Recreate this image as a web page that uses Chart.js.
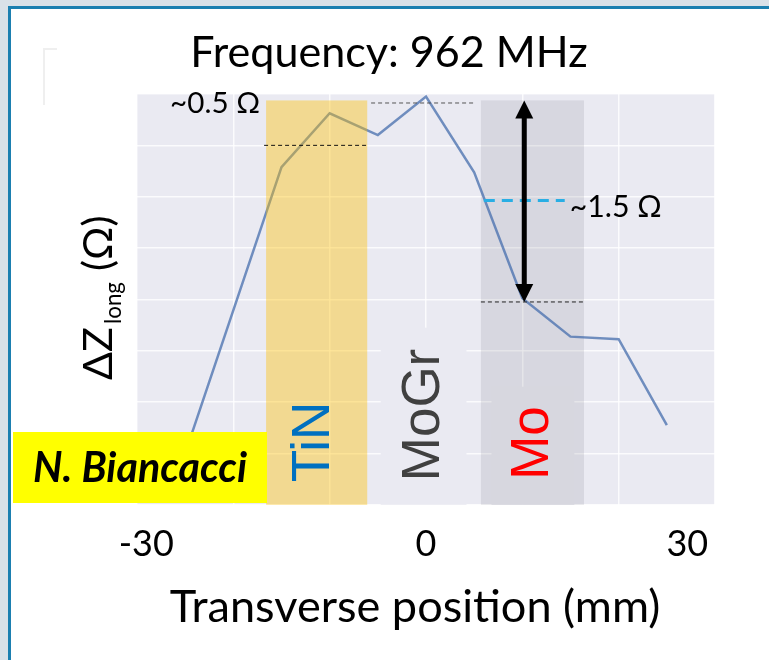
<!DOCTYPE html>
<html>
<head>
<meta charset="utf-8">
<script src="https://cdn.jsdelivr.net/npm/chart.js@4.4.1/dist/chart.umd.min.js"></script>
<style>
  html, body { margin: 0; padding: 0; background: #fff; }
  #wrap { width: 769px; height: 660px; }
</style>
</head>
<body>
<div id="wrap"><canvas id="impedance"></canvas></div>
<script>
// transverse scan of the longitudinal impedance shift at 962 MHz
const positions = [-25, -15, -10, -5, 0, 5, 10, 15, 20, 25];                 // mm
const deltaZ = [0.40, 2.63, 3.05, 2.88, 3.18, 2.59, 1.61, 1.31, 1.29, 0.62];  // Ω

const xTicks = [-30, 0, 30];
const xTickText = ["  -30", "0", "30      "];

// coating stripes (mm) and their height (Ω)
const tinBand = [-16.6, -6.1];
const moBand = [5.7, 16.4];
const bandTop = 3.15;

// reference levels (Ω)
const peakLevel = 3.13;
const tinLevel = 2.80;
const moLevel = 1.58;
const midLevel = 2.37;
const arrowX = 10.2;
const midDash = [6.0, 14.4];
const peakDash = [-5.7, 4.9];

const FONT = "Lato, 'Noto Sans', sans-serif";
const ARIAL = "'Liberation Sans', Arial, sans-serif";

const ctx = document.getElementById("impedance").getContext("2d");

// pick a font size so that text spans the given width
function fitFont(c, text, style, family, width) {
  c.font = style + " 100px " + family;
  const size = 100 * width / c.measureText(text).width;
  return style + " " + size.toFixed(1) + "px " + family;
}

function vText(c, text, px, py, font, color) {
  c.save();
  c.translate(px, py);
  c.rotate(-Math.PI / 2);
  c.font = font;
  c.fillStyle = color;
  c.textAlign = "center";
  c.textBaseline = "middle";
  c.fillText(text, 0, 0);
  c.restore();
}

function dashed(c, x0, x1, yy, color, width, dash) {
  c.save();
  c.strokeStyle = color;
  c.lineWidth = width;
  c.setLineDash(dash);
  c.beginPath();
  c.moveTo(x0, yy);
  c.lineTo(x1, yy);
  c.stroke();
  c.restore();
}

const decorations = {
  id: "decorations",
  beforeDraw(chart) {
    const c = chart.ctx;
    const { left, top, right, bottom } = chart.chartArea;
    c.save();
    c.fillStyle = "#ffffff";
    c.fillRect(0, 0, chart.width, chart.height);
    c.fillStyle = "#d9e1e8";
    c.fillRect(0, 0, chart.width, 6);
    c.fillRect(0, 0, 8, chart.height);
    c.fillStyle = "#1b7fb0";
    c.fillRect(8, 6, chart.width - 8, 3);
    c.fillRect(8, 6, 3, chart.height - 6);
    c.strokeStyle = "#efefef";
    c.lineWidth = 2;
    c.beginPath();
    c.moveTo(57, 49);
    c.lineTo(44, 49);
    c.lineTo(44, 105);
    c.stroke();
    c.fillStyle = "#eaeaf2";
    c.fillRect(left, top, right - left, bottom - top);
    c.restore();
  },
  beforeDatasetsDraw(chart) {
    const c = chart.ctx;
    const x = chart.scales.x, y = chart.scales.y;
    const y0 = y.getPixelForValue(0), yt = y.getPixelForValue(bandTop);
    c.save();
    // Mo stripe lies under the curve
    c.fillStyle = "rgba(110,108,122,0.15)";
    const m0 = x.getPixelForValue(moBand[0]), m1 = x.getPixelForValue(moBand[1]);
    c.fillRect(m0, yt, m1 - m0, y0 - yt);
    // text boxes covering the grid
    c.fillStyle = "#eaeaf2";
    const g0 = x.getPixelForValue(-4.7), g1 = x.getPixelForValue(4.2);
    const gt = y.getPixelForValue(1.38);
    c.fillRect(g0, gt, g1 - g0, y0 - gt);
    c.fillStyle = "#d7d7df";
    const b0 = x.getPixelForValue(6.8), b1 = x.getPixelForValue(15.4);
    const bt = y.getPixelForValue(0.92);
    c.fillRect(b0, bt, b1 - b0, y0 - bt);
    c.restore();
  },
  afterDatasetsDraw(chart) {
    const c = chart.ctx;
    const x = chart.scales.x, y = chart.scales.y;
    const y0 = y.getPixelForValue(0), yt = y.getPixelForValue(bandTop);
    c.save();

    // TiN stripe drawn over the curve
    const t0 = x.getPixelForValue(tinBand[0]), t1 = x.getPixelForValue(tinBand[1]);
    c.fillStyle = "rgba(255,192,0,0.4)";
    c.fillRect(t0, yt, t1 - t0, y0 - yt);

    // level markers
    dashed(c, x.getPixelForValue(peakDash[0]), x.getPixelForValue(peakDash[1]),
      y.getPixelForValue(peakLevel), "#555", 1, [4, 3]);
    dashed(c, t0 - 2, t1, y.getPixelForValue(tinLevel), "#111", 1, [4, 3]);
    dashed(c, x.getPixelForValue(moBand[0]), x.getPixelForValue(moBand[1]),
      y.getPixelForValue(moLevel), "#222", 1, [4, 3]);
    dashed(c, x.getPixelForValue(midDash[0]), x.getPixelForValue(midDash[1]),
      y.getPixelForValue(midLevel), "#29aee4", 3, [11, 7]);

    // double arrow spanning the drop
    const ax = x.getPixelForValue(arrowX);
    const aTop = y.getPixelForValue(bandTop), aBot = y.getPixelForValue(moLevel);
    c.strokeStyle = "#000";
    c.fillStyle = "#000";
    c.lineWidth = 5;
    c.beginPath();
    c.moveTo(ax, aTop + 14);
    c.lineTo(ax, aBot - 14);
    c.stroke();
    c.beginPath();
    c.moveTo(ax, aTop);
    c.lineTo(ax - 9, aTop + 18);
    c.lineTo(ax + 9, aTop + 18);
    c.closePath();
    c.fill();
    c.beginPath();
    c.moveTo(ax, aBot);
    c.lineTo(ax - 9, aBot - 18);
    c.lineTo(ax + 9, aBot - 18);
    c.closePath();
    c.fill();

    // material names
    vText(c, "TiN", (t0 + t1) / 2 - 2, 442, "53px " + ARIAL, "#0070c0");
    vText(c, "MoGr", x.getPixelForValue(0) - 2, 415, "53px " + ARIAL, "#404040");
    vText(c, "Mo", (x.getPixelForValue(moBand[0]) + x.getPixelForValue(moBand[1])) / 2 + 1,
      443, "53px " + ARIAL, "#ff0000");

    // step sizes
    c.fillStyle = "#000";
    c.textBaseline = "alphabetic";
    c.textAlign = "right";
    c.font = fitFont(c, "~0.5 Ω", "normal", FONT, 90);
    c.fillText("~0.5 Ω", t0 - 6, y.getPixelForValue(peakLevel) + 10);
    c.textAlign = "left";
    c.font = fitFont(c, "~1.5 Ω", "normal", FONT, 92);
    c.fillText("~1.5 Ω", x.getPixelForValue(midDash[1]) + 5, y.getPixelForValue(midLevel) + 16);

    // author tag
    c.fillStyle = "#ffff00";
    c.fillRect(13, 432, 254, 71);
    c.fillStyle = "#000";
    c.textAlign = "center";
    c.font = fitFont(c, "N. Biancacci", "italic bold", FONT, 214);
    c.fillText("N. Biancacci", 140, 482);

    // title and axis titles
    c.font = fitFont(c, "Frequency: 962 MHz", "normal", FONT, 398);
    c.fillText("Frequency: 962 MHz", 389, 67);
    c.font = fitFont(c, "Transverse position (mm)", "normal", FONT, 490);
    c.fillText("Transverse position (mm)", 415, 622);

    c.translate(112, 380);
    c.rotate(-Math.PI / 2);
    c.textAlign = "left";
    const main = fitFont(c, "ΔZ", "normal", FONT, 53);
    c.font = main;
    c.fillText("ΔZ", 0, 0);
    c.font = fitFont(c, "long", "normal", FONT, 42);
    c.fillText("long", 56, 9);
    c.font = main;
    c.fillText("(Ω)", 109, 0);
    c.restore();
  }
};

new Chart(ctx, {
  type: "line",
  data: {
    datasets: [
      {
        label: "ΔZlong",
        data: positions.map((p, i) => ({ x: p, y: deltaZ[i] })),
        borderColor: "rgba(76,114,176,0.78)",
        borderWidth: 2.5,
        pointRadius: 0,
        tension: 0,
      },
    ],
  },
  options: {
    responsive: true,
    maintainAspectRatio: false,
    animation: false,
    devicePixelRatio: 1,
    layout: { padding: { left: 137, right: 54, top: 94, bottom: 76 } },
    plugins: { legend: { display: false }, tooltip: { enabled: false } },
    scales: {
      x: {
        type: "linear",
        min: -30,
        max: 30,
        border: { display: false },
        grid: { color: "rgba(255,255,255,0.8)", lineWidth: 1.5, drawTicks: false },
        // keep the plot edges fixed regardless of label overhang
        afterFit: (scale) => {
          scale.paddingLeft = 0;
          scale.paddingRight = 0;
        },
        ticks: {
          stepSize: 10,
          autoSkip: false,
          maxRotation: 0,
          padding: 18,
          color: "#000",
          font: { family: FONT, size: 36 },
          callback: (v) => {
            const i = xTicks.indexOf(v);
            return i >= 0 ? xTickText[i] : "";
          },
        },
      },
      y: {
        min: 0,
        max: 3.2,
        border: { display: false },
        grid: { color: "rgba(255,255,255,0.8)", lineWidth: 1.5, drawTicks: false },
        ticks: { display: false, stepSize: 0.4 },
      },
    },
  },
  plugins: [decorations],
});
</script>
</body>
</html>
